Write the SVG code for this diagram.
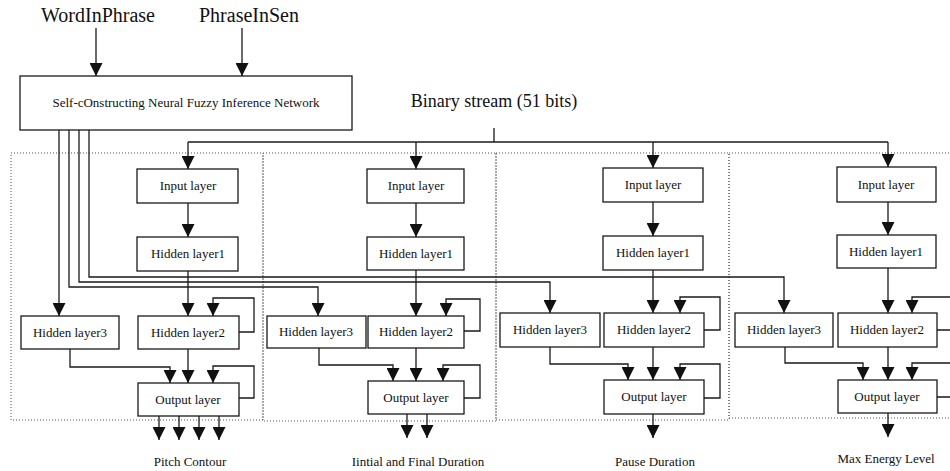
<svg xmlns="http://www.w3.org/2000/svg" width="950" height="471" viewBox="0 0 950 471">
<style>
.box{fill:#fff;stroke:#1a1a1a;stroke-width:1.3}
.lbl{font-family:"Liberation Serif","Times New Roman",serif;font-size:13px;fill:#111;text-anchor:middle}
.big{font-family:"Liberation Serif","Times New Roman",serif;font-size:20px;fill:#111;text-anchor:middle}
.mid{font-family:"Liberation Serif","Times New Roman",serif;font-size:18px;fill:#111;text-anchor:middle}
.ln{fill:none;stroke:#1a1a1a;stroke-width:1.3}
.arr{fill:none;stroke:#1a1a1a;stroke-width:1.3;marker-end:url(#ah)}
.dot{fill:none;stroke:#555;stroke-width:1;stroke-dasharray:1 2}
</style>
<defs>
<marker id="ah" markerUnits="userSpaceOnUse" markerWidth="14" markerHeight="13" refX="13" refY="6.5" orient="auto">
<path d="M0,0 L13,6.5 L0,13 z" fill="#111"/>
</marker>
</defs>
<rect width="950" height="471" fill="#fff"/>

<g id="panels">
<rect class="dot" x="11" y="153" width="252" height="267"/>
<rect class="dot" x="263" y="153" width="233" height="268"/>
<rect class="dot" x="496" y="153" width="233" height="267"/>
<rect class="dot" x="729" y="153" width="231" height="265"/>
</g>

<g id="inputs">
<text class="big" x="98" y="22">WordInPhrase</text>
<text class="big" x="249" y="22">PhraseInSen</text>
<text class="mid" x="494" y="107">Binary stream (51 bits)</text>
</g>

<g id="connectors">
<path class="arr" d="M96,28 V76"/>
<path class="arr" d="M242,28 V76"/>
<path class="ln" d="M494,128 V142"/>
<path class="ln" d="M188,142 H888"/>
<path class="arr" d="M188,142 V169"/>
<path class="arr" d="M416,142 V169"/>
<path class="arr" d="M653,142 V168"/>
<path class="arr" d="M888,142 V167"/>
<path class="arr" d="M59,130 V316"/>
<path class="arr" d="M69,130 V287 H318 V316"/>
<path class="arr" d="M79,130 V282 H550 V313"/>
<path class="arr" d="M89,130 V277 H784 V313"/>
<!-- panel 1 -->
<path class="arr" d="M188,203 V237"/>
<path class="arr" d="M188,271 V316"/>
<path class="arr" d="M239,332 H254 V298 H213 V316"/>
<path class="arr" d="M70,349 V367 H170 V383"/>
<path class="arr" d="M188,349 V383"/>
<path class="arr" d="M239,398 H254 V366 H213 V383"/>
<path class="arr" d="M159,416 V440"/>
<path class="arr" d="M179,416 V440"/>
<path class="arr" d="M199,416 V440"/>
<path class="arr" d="M219,416 V440"/>
<!-- panel 2 -->
<path class="arr" d="M416,203 V237"/>
<path class="arr" d="M416,270 V316"/>
<path class="arr" d="M464,331 H480 V299 H446 V316"/>
<path class="arr" d="M319,348 V365 H393 V381"/>
<path class="arr" d="M416,348 V381"/>
<path class="arr" d="M464,398 H480 V365 H443 V381"/>
<path class="arr" d="M407,414 V438"/>
<path class="arr" d="M427,414 V438"/>
<!-- panel 3 -->
<path class="arr" d="M653,202 V236"/>
<path class="arr" d="M653,270 V313"/>
<path class="arr" d="M704,330 H720 V297 H680 V313"/>
<path class="arr" d="M550,347 V364 H628 V380"/>
<path class="arr" d="M653,347 V380"/>
<path class="arr" d="M704,398 H720 V364 H680 V380"/>
<path class="arr" d="M653,414 V438"/>
<!-- panel 4 -->
<path class="arr" d="M888,202 V235"/>
<path class="arr" d="M888,268 V313"/>
<path class="arr" d="M937,330 H962 V297 H912 V313"/>
<path class="arr" d="M785,347 V363 H863 V380"/>
<path class="arr" d="M888,347 V380"/>
<path class="arr" d="M937,397 H962 V363 H912 V380"/>
<path class="arr" d="M888,413 V437"/>
</g>

<g id="sonfin">
<rect class="box" x="20" y="76" width="332" height="54"/>
<text class="lbl" x="186" y="107" font-size="12.5">Self-cOnstructing Neural Fuzzy Inference Network</text>
</g>

<g id="p1-input"><rect class="box" x="137" y="169" width="101" height="34"/><text class="lbl" x="188" y="190">Input layer</text></g>
<g id="p1-hidden1"><rect class="box" x="137" y="237" width="101" height="34"/><text class="lbl" x="188" y="258">Hidden layer1</text></g>
<g id="p1-hidden3"><rect class="box" x="21" y="316" width="98" height="33"/><text class="lbl" x="70" y="337">Hidden layer3</text></g>
<g id="p1-hidden2"><rect class="box" x="138" y="316" width="101" height="33"/><text class="lbl" x="188" y="337">Hidden layer2</text></g>
<g id="p1-output"><rect class="box" x="138" y="383" width="101" height="33"/><text class="lbl" x="188" y="404">Output layer</text></g>
<g id="p1-label"><text class="lbl" x="190" y="466">Pitch Contour</text></g>

<g id="p2-input"><rect class="box" x="367" y="169" width="97" height="34"/><text class="lbl" x="416" y="190">Input layer</text></g>
<g id="p2-hidden1"><rect class="box" x="367" y="237" width="97" height="33"/><text class="lbl" x="416" y="258">Hidden layer1</text></g>
<g id="p2-hidden3"><rect class="box" x="267" y="316" width="99" height="32"/><text class="lbl" x="316" y="336">Hidden layer3</text></g>
<g id="p2-hidden2"><rect class="box" x="368" y="316" width="96" height="32"/><text class="lbl" x="416" y="336">Hidden layer2</text></g>
<g id="p2-output"><rect class="box" x="368" y="381" width="96" height="33"/><text class="lbl" x="416" y="402">Output layer</text></g>
<g id="p2-label"><text class="lbl" x="418" y="466">Iintial and Final Duration</text></g>

<g id="p3-input"><rect class="box" x="603" y="168" width="100" height="34"/><text class="lbl" x="653" y="189">Input layer</text></g>
<g id="p3-hidden1"><rect class="box" x="603" y="236" width="100" height="34"/><text class="lbl" x="653" y="257">Hidden layer1</text></g>
<g id="p3-hidden3"><rect class="box" x="500" y="313" width="100" height="34"/><text class="lbl" x="550" y="334">Hidden layer3</text></g>
<g id="p3-hidden2"><rect class="box" x="604" y="313" width="100" height="34"/><text class="lbl" x="654" y="334">Hidden layer2</text></g>
<g id="p3-output"><rect class="box" x="604" y="380" width="100" height="34"/><text class="lbl" x="654" y="401">Output layer</text></g>
<g id="p3-label"><text class="lbl" x="655" y="466">Pause Duration</text></g>

<g id="p4-input"><rect class="box" x="837" y="167" width="99" height="35"/><text class="lbl" x="886" y="189">Input layer</text></g>
<g id="p4-hidden1"><rect class="box" x="837" y="235" width="99" height="33"/><text class="lbl" x="886" y="256">Hidden layer1</text></g>
<g id="p4-hidden3"><rect class="box" x="735" y="313" width="98" height="34"/><text class="lbl" x="784" y="334">Hidden layer3</text></g>
<g id="p4-hidden2"><rect class="box" x="838" y="313" width="99" height="34"/><text class="lbl" x="887" y="334">Hidden layer2</text></g>
<g id="p4-output"><rect class="box" x="838" y="380" width="99" height="33"/><text class="lbl" x="887" y="401">Output layer</text></g>
<g id="p4-label"><text class="lbl" x="886" y="463">Max Energy Level</text></g>
</svg>
